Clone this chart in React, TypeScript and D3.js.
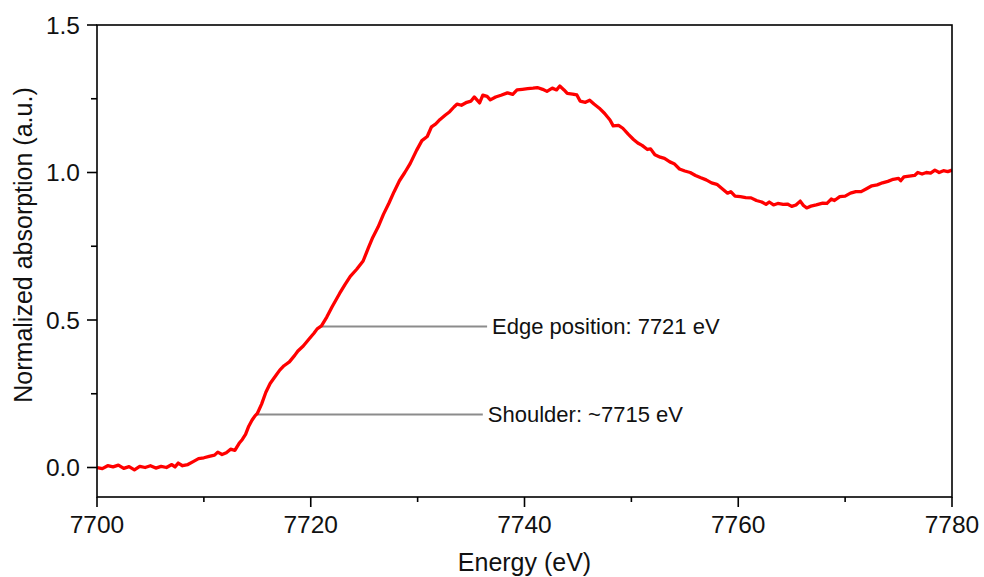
import React from "react";
import * as d3 from "d3";

const energy: number[] = [
  7700.0, 7700.5, 7701.0, 7701.5, 7702.0, 7702.5, 7703.0, 7703.5, 7704.0, 7704.5,
  7705.0, 7705.5, 7706.0, 7706.5, 7707.0, 7707.3, 7707.6, 7708.0, 7708.5, 7709.0,
  7709.5, 7710.0, 7710.5, 7711.0, 7711.3, 7711.7, 7712.1, 7712.5, 7712.9, 7713.3,
  7713.6, 7713.9, 7714.2, 7714.5, 7714.8, 7715.0, 7715.4, 7715.8, 7716.2, 7716.6,
  7717.1, 7717.5, 7718.0, 7718.5, 7718.8, 7719.3, 7719.9, 7720.3, 7720.6, 7721.0,
  7721.5, 7722.0, 7722.7, 7723.2, 7723.7, 7724.3, 7724.9, 7725.4, 7725.8, 7726.3,
  7726.8, 7727.3, 7727.8, 7728.3, 7728.8, 7729.3, 7729.9, 7730.4, 7730.9, 7731.3,
  7731.7, 7732.1, 7732.6, 7733.0, 7733.4, 7733.7, 7734.1, 7734.6, 7735.0, 7735.3,
  7735.8, 7736.1, 7736.5, 7736.8, 7737.3, 7737.8, 7738.4, 7738.9, 7739.3, 7739.8,
  7740.3, 7740.8, 7741.2, 7741.7, 7742.1, 7742.6, 7743.0, 7743.3, 7743.7, 7744.0,
  7744.5, 7744.9, 7745.2, 7745.7, 7746.1, 7746.5, 7747.0, 7747.5, 7748.0, 7748.3,
  7748.8, 7749.2, 7749.7, 7750.2, 7750.6, 7751.0, 7751.5, 7751.8, 7752.2, 7752.7,
  7753.1, 7753.6, 7754.0, 7754.5, 7755.0, 7755.5, 7756.0, 7756.5, 7757.0, 7757.5,
  7758.0, 7758.5, 7759.0, 7759.3, 7759.7, 7760.2, 7760.7, 7761.2, 7761.7, 7762.2,
  7762.6, 7762.9, 7763.3, 7763.7, 7764.2, 7764.6, 7765.0, 7765.4, 7765.8, 7766.1,
  7766.4, 7766.8, 7767.3, 7767.9, 7768.3, 7768.7, 7769.0, 7769.5, 7770.0, 7770.5,
  7771.0, 7771.5, 7772.0, 7772.5, 7773.0, 7773.5, 7774.0, 7774.5, 7775.0, 7775.2,
  7775.5, 7776.0, 7776.5, 7776.8, 7777.2, 7777.6, 7778.0, 7778.4, 7778.8, 7779.2,
  7779.6, 7780.0,
];

const absorption: number[] = [
  0.000, -0.004, 0.006, 0.002, 0.008, -0.003, 0.003, -0.008, 0.004, 0.000,
  0.006, -0.002, 0.004, 0.000, 0.010, 0.002, 0.015, 0.006, 0.010, 0.020,
  0.030, 0.033, 0.038, 0.042, 0.052, 0.044, 0.050, 0.062, 0.058, 0.082,
  0.095, 0.112, 0.140, 0.160, 0.176, 0.183, 0.215, 0.255, 0.285, 0.305,
  0.330, 0.345, 0.358, 0.380, 0.395, 0.412, 0.438, 0.455, 0.470, 0.480,
  0.510, 0.545, 0.590, 0.620, 0.648, 0.672, 0.700, 0.745, 0.780, 0.815,
  0.858, 0.895, 0.935, 0.972, 1.000, 1.030, 1.075, 1.108, 1.122, 1.155,
  1.165, 1.180, 1.195, 1.206, 1.222, 1.232, 1.228, 1.238, 1.242, 1.256,
  1.236, 1.262, 1.258, 1.246, 1.256, 1.262, 1.270, 1.265, 1.280, 1.282,
  1.284, 1.286, 1.288, 1.282, 1.275, 1.286, 1.280, 1.293, 1.280, 1.268,
  1.266, 1.263, 1.242, 1.238, 1.245, 1.232, 1.218, 1.200, 1.178, 1.158,
  1.160, 1.150, 1.130, 1.112, 1.100, 1.092, 1.078, 1.080, 1.060, 1.052,
  1.048, 1.036, 1.030, 1.012, 1.005, 1.000, 0.990, 0.982, 0.975, 0.965,
  0.960, 0.945, 0.930, 0.935, 0.920, 0.918, 0.915, 0.914, 0.905, 0.900,
  0.892, 0.900, 0.890, 0.895, 0.892, 0.893, 0.885, 0.890, 0.903, 0.888,
  0.880, 0.886, 0.890, 0.896, 0.895, 0.910, 0.905, 0.918, 0.920, 0.930,
  0.935, 0.935, 0.945, 0.955, 0.958, 0.965, 0.970, 0.977, 0.980, 0.972,
  0.985, 0.988, 0.990, 1.000, 0.995, 1.000, 0.998, 1.008, 1.000, 1.006,
  1.003, 1.008,
];

const xMajorTicks: number[] = [7700, 7720, 7740, 7760, 7780];
const xMinorTicks: number[] = [7710, 7730, 7750, 7770];
const yMajorTicks: number[] = [0.0, 0.5, 1.0, 1.5];
const yMinorTicks: number[] = [0.25, 0.75, 1.25];

const annotationLabels: string[] = ["Edge position: 7721 eV", "Shoulder: ~7715 eV"];
const annotationStartE: number[] = [7721, 7715];
const annotationStartV: number[] = [0.478, 0.18];
const annotationEndE: number[] = [7736.5, 7736.1];

const W = 984;
const H = 577;
const left = 97;
const right = 952;
const top = 25;
const bottom = 497;
const FONT = "'Liberation Sans', Arial, sans-serif";

export default function App() {
  const x = d3.scaleLinear().domain([7700, 7780]).range([left, right]);
  const y = d3.scaleLinear().domain([-0.1, 1.5]).range([bottom, top]);
  const pts: [number, number][] = energy.map((e, i) => [e, absorption[i]]);
  const line = d3
    .line<[number, number]>()
    .x((d) => x(d[0]))
    .y((d) => y(d[1]));
  const fmt = d3.format(".1f");

  return (
    <svg
      width={W}
      height={H}
      style={{ position: "fixed", left: 0, top: 0, background: "#fff" }}
      fontFamily={FONT}
    >
      <rect x={0} y={0} width={W} height={H} fill="#fff" />
      <defs>
        <clipPath id="plot">
          <rect x={left} y={top} width={right - left} height={bottom - top} />
        </clipPath>
      </defs>

      {annotationLabels.map((lab, i) => (
        <g key={lab}>
          <line
            x1={x(annotationStartE[i])}
            x2={x(annotationEndE[i])}
            y1={y(annotationStartV[i])}
            y2={y(annotationStartV[i])}
            stroke="#8c8c8c"
            strokeWidth={2}
          />
          <text
            x={x(annotationEndE[i]) + 5}
            y={y(annotationStartV[i])}
            dy="0.35em"
            fontSize={22}
            fill="#111"
          >
            {lab}
          </text>
        </g>
      ))}

      <path
        d={line(pts) || ""}
        fill="none"
        stroke="#ff0000"
        strokeWidth={3.3}
        strokeLinejoin="round"
        clipPath="url(#plot)"
      />

      {/* frame */}
      <rect
        x={left}
        y={top}
        width={right - left}
        height={bottom - top}
        fill="none"
        stroke="#000"
        strokeWidth={1.6}
      />

      {/* x ticks */}
      {xMajorTicks.map((t) => (
        <g key={"xM" + t}>
          <line x1={x(t)} x2={x(t)} y1={bottom} y2={bottom + 10} stroke="#000" strokeWidth={1.6} />
          <text x={x(t)} y={533} textAnchor="middle" fontSize={24.5} fill="#111">
            {t}
          </text>
        </g>
      ))}
      {xMinorTicks.map((t) => (
        <line key={"xm" + t} x1={x(t)} x2={x(t)} y1={bottom} y2={bottom + 5} stroke="#000" strokeWidth={1.6} />
      ))}

      {/* y ticks */}
      {yMajorTicks.map((t) => (
        <g key={"yM" + t}>
          <line x1={left - 10} x2={left} y1={y(t)} y2={y(t)} stroke="#000" strokeWidth={1.6} />
          <text x={80} y={y(t)} dy="0.35em" textAnchor="end" fontSize={24.5} fill="#111">
            {fmt(t)}
          </text>
        </g>
      ))}
      {yMinorTicks.map((t) => (
        <line key={"ym" + t} x1={left - 6} x2={left} y1={y(t)} y2={y(t)} stroke="#000" strokeWidth={1.6} />
      ))}

      <text x={(left + right) / 2} y={571} textAnchor="middle" fontSize={25} fill="#111">
        Energy (eV)
      </text>
      <text
        transform={`translate(32, 245) rotate(-90)`}
        textAnchor="middle"
        fontSize={25}
        fill="#111"
      >
        Normalized absorption (a.u.)
      </text>
    </svg>
  );
}
